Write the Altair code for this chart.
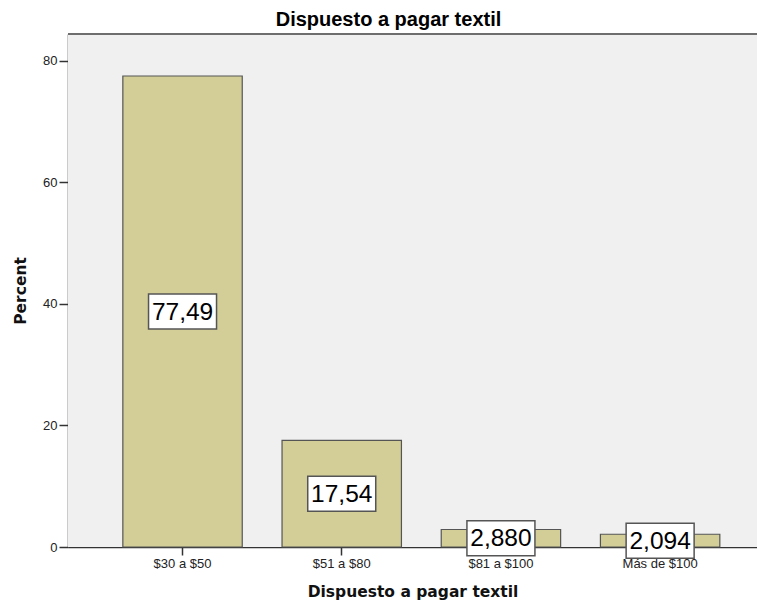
import altair as alt
import pandas as pd

categories = ["$30 a $50", "$51 a $80", "$81 a $100", "Más de $100"]
percents = [77.49, 17.54, 2.880, 2.094]
value_labels = ["77,49", "17,54", "2,880", "2,094"]
y_ticks = [0, 20, 40, 60, 80]

df = pd.DataFrame({"cat": categories, "pct": percents, "lab": value_labels})

W, H = 689, 513
AXIS_FONT = "Liberation Sans"
TITLE_FONT = "DejaVu Sans"

x_enc = alt.X(
    "cat:N",
    sort=categories,
    scale=alt.Scale(paddingInner=0.25, paddingOuter=0.289, align=0.596),
    axis=alt.Axis(
        title="Dispuesto a pagar textil",
        labelAngle=0,
        labelFont=AXIS_FONT,
        labelFontSize=13,
        labelColor="#222222",
        labelPadding=2,
        tickSize=8,
        tickColor="#333333",
        tickWidth=1.5,
        domainColor="#333333",
        domainWidth=1.5,
        titleFont=TITLE_FONT,
        titleFontSize=15.5,
        titleFontWeight="bold",
        titleColor="#111111",
        titlePadding=14,
    ),
)

y_scale = alt.Scale(domain=[0, 84.4], nice=False, zero=True)

panel = alt.Chart().mark_rect(fill="#F0F0F0").encode(
    x=alt.value(0), x2=alt.value(W), y=alt.value(0), y2=alt.value(H)
)

bars = alt.Chart().mark_bar(
    fill="#D3CE98", stroke="#555555", strokeWidth=1.2
).encode(
    x=x_enc,
    y=alt.Y(
        "pct:Q",
        scale=y_scale,
        axis=alt.Axis(
            title="Percent",
            values=y_ticks,
            grid=False,
            labelFont=AXIS_FONT,
            labelFontSize=13,
            labelColor="#222222",
            labelPadding=2,
            tickSize=9,
            tickColor="#333333",
            tickWidth=1.5,
            domainColor="#333333",
            domainWidth=1.5,
            titleFont=TITLE_FONT,
            titleFontSize=15.5,
            titleFontWeight="bold",
            titleColor="#111111",
            titlePadding=14,
        ),
    ),
)

top_border = alt.Chart().mark_rule(color="#6E6E6E", strokeWidth=2).encode(
    x=alt.value(0), x2=alt.value(W), y=alt.value(0)
)

base_lab = alt.Chart().transform_calculate(mid="datum.pct / 2")

boxes = base_lab.mark_point(
    shape="M-1,-0.515L1,-0.515L1,0.515L-1,0.515Z",
    size=68 * 68,
    filled=True,
    fill="white",
    stroke="#555555",
    strokeWidth=1.5,
    opacity=1,
).encode(
    x=alt.X("cat:N", sort=categories),
    y=alt.Y("mid:Q", scale=y_scale),
)

texts = base_lab.mark_text(
    font=AXIS_FONT, fontSize=24.5, color="#000000", baseline="middle", dy=1
).encode(
    x=alt.X("cat:N", sort=categories),
    y=alt.Y("mid:Q", scale=y_scale),
    text="lab:N",
)

chart = (
    alt.layer(panel, bars, top_border, boxes, texts, data=df)
    .properties(
        width=W,
        height=H,
        title=alt.TitleParams(
            "Dispuesto a pagar textil",
            font=AXIS_FONT,
            fontSize=20,
            fontWeight="bold",
            color="#000000",
            anchor="middle",
            dx=-24,
            offset=3,
        ),
        autosize=alt.AutoSizeParams(type="none"),
        padding={"left": 60, "top": 26, "right": 0, "bottom": 54},
    )
    .configure_view(fill="#F0F0F0", strokeOpacity=0)
    .configure(background="white")
)

chart.save("out.html", embed_options={"renderer": "svg", "actions": False})
